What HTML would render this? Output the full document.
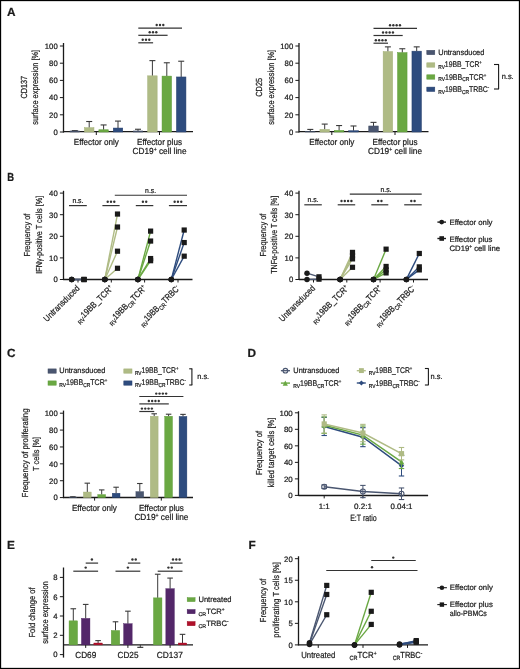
<!DOCTYPE html>
<html><head><meta charset="utf-8"><style>
html,body{margin:0;padding:0;background:#fff;overflow:hidden;}
svg{display:block;font-family:"Liberation Sans", sans-serif;will-change:transform;text-rendering:geometricPrecision;}
text{fill:#1a1a1a;stroke:#1a1a1a;stroke-width:0.22px;}
</style></head><body>
<svg width="520" height="669" viewBox="0 0 520 669">
<rect x="0" y="0" width="520" height="669" fill="#fff"/>
<text x="7" y="16.1" font-size="11.8" font-weight="bold">A</text>
<line x1="63.5" y1="43" x2="63.5" y2="132.6" stroke="#1a1a1a" stroke-width="1.3"/>
<line x1="59.9" y1="132" x2="63.5" y2="132" stroke="#1a1a1a" stroke-width="1.0"/>
<text x="57.7" y="134.8" font-size="7.8" text-anchor="end" textLength="4.3" lengthAdjust="spacingAndGlyphs">0</text>
<line x1="59.9" y1="114.8" x2="63.5" y2="114.8" stroke="#1a1a1a" stroke-width="1.0"/>
<text x="57.7" y="117.6" font-size="7.8" text-anchor="end" textLength="8.6" lengthAdjust="spacingAndGlyphs">20</text>
<line x1="59.9" y1="97.6" x2="63.5" y2="97.6" stroke="#1a1a1a" stroke-width="1.0"/>
<text x="57.7" y="100.4" font-size="7.8" text-anchor="end" textLength="8.6" lengthAdjust="spacingAndGlyphs">40</text>
<line x1="59.9" y1="80.4" x2="63.5" y2="80.4" stroke="#1a1a1a" stroke-width="1.0"/>
<text x="57.7" y="83.2" font-size="7.8" text-anchor="end" textLength="8.6" lengthAdjust="spacingAndGlyphs">60</text>
<line x1="59.9" y1="63.2" x2="63.5" y2="63.2" stroke="#1a1a1a" stroke-width="1.0"/>
<text x="57.7" y="66" font-size="7.8" text-anchor="end" textLength="8.6" lengthAdjust="spacingAndGlyphs">80</text>
<line x1="59.9" y1="46" x2="63.5" y2="46" stroke="#1a1a1a" stroke-width="1.0"/>
<text x="57.7" y="48.8" font-size="7.8" text-anchor="end" textLength="12.9" lengthAdjust="spacingAndGlyphs">100</text>
<line x1="63.5" y1="131.7" x2="193" y2="131.7" stroke="#1a1a1a" stroke-width="1.3"/>
<line x1="96.3" y1="132" x2="96.3" y2="135" stroke="#1a1a1a" stroke-width="1.0"/>
<line x1="159.5" y1="132" x2="159.5" y2="135" stroke="#1a1a1a" stroke-width="1.0"/>
<text x="27.1" y="87.3" font-size="8.8" text-anchor="middle" textLength="22.5" lengthAdjust="spacingAndGlyphs" transform="rotate(-90 27.1 87.3)">CD137</text>
<text x="38.2" y="87.3" font-size="8.8" text-anchor="middle" textLength="75" lengthAdjust="spacingAndGlyphs" transform="rotate(-90 38.2 87.3)">surface expression [%]</text>
<text x="96.3" y="144.8" font-size="8.8" text-anchor="middle" textLength="45" lengthAdjust="spacingAndGlyphs">Effector only</text>
<text x="159.5" y="144.8" font-size="8.8" text-anchor="middle" textLength="45" lengthAdjust="spacingAndGlyphs">Effector plus</text>
<text x="159.5" y="154.4" font-size="8.8" text-anchor="middle" textLength="54" lengthAdjust="spacingAndGlyphs"><tspan dy="0" font-size="8.8">CD19</tspan><tspan dy="-3.17" font-size="5.46">+</tspan><tspan dy="3.17" font-size="8.8"> cell line</tspan></text>
<line x1="299" y1="43" x2="299" y2="132.6" stroke="#1a1a1a" stroke-width="1.3"/>
<line x1="295.4" y1="132" x2="299" y2="132" stroke="#1a1a1a" stroke-width="1.0"/>
<text x="293.2" y="134.8" font-size="7.8" text-anchor="end" textLength="4.3" lengthAdjust="spacingAndGlyphs">0</text>
<line x1="295.4" y1="114.8" x2="299" y2="114.8" stroke="#1a1a1a" stroke-width="1.0"/>
<text x="293.2" y="117.6" font-size="7.8" text-anchor="end" textLength="8.6" lengthAdjust="spacingAndGlyphs">20</text>
<line x1="295.4" y1="97.6" x2="299" y2="97.6" stroke="#1a1a1a" stroke-width="1.0"/>
<text x="293.2" y="100.4" font-size="7.8" text-anchor="end" textLength="8.6" lengthAdjust="spacingAndGlyphs">40</text>
<line x1="295.4" y1="80.4" x2="299" y2="80.4" stroke="#1a1a1a" stroke-width="1.0"/>
<text x="293.2" y="83.2" font-size="7.8" text-anchor="end" textLength="8.6" lengthAdjust="spacingAndGlyphs">60</text>
<line x1="295.4" y1="63.2" x2="299" y2="63.2" stroke="#1a1a1a" stroke-width="1.0"/>
<text x="293.2" y="66" font-size="7.8" text-anchor="end" textLength="8.6" lengthAdjust="spacingAndGlyphs">80</text>
<line x1="295.4" y1="46" x2="299" y2="46" stroke="#1a1a1a" stroke-width="1.0"/>
<text x="293.2" y="48.8" font-size="7.8" text-anchor="end" textLength="12.9" lengthAdjust="spacingAndGlyphs">100</text>
<line x1="299" y1="131.7" x2="428.5" y2="131.7" stroke="#1a1a1a" stroke-width="1.3"/>
<line x1="331.8" y1="132" x2="331.8" y2="135" stroke="#1a1a1a" stroke-width="1.0"/>
<line x1="395" y1="132" x2="395" y2="135" stroke="#1a1a1a" stroke-width="1.0"/>
<text x="262.1" y="87.3" font-size="8.8" text-anchor="middle" textLength="19" lengthAdjust="spacingAndGlyphs" transform="rotate(-90 262.1 87.3)">CD25</text>
<text x="273.7" y="87.3" font-size="8.8" text-anchor="middle" textLength="75" lengthAdjust="spacingAndGlyphs" transform="rotate(-90 273.7 87.3)">surface expression [%]</text>
<text x="331.8" y="144.8" font-size="8.8" text-anchor="middle" textLength="45" lengthAdjust="spacingAndGlyphs">Effector only</text>
<text x="395" y="144.8" font-size="8.8" text-anchor="middle" textLength="45" lengthAdjust="spacingAndGlyphs">Effector plus</text>
<text x="395" y="154.4" font-size="8.8" text-anchor="middle" textLength="54" lengthAdjust="spacingAndGlyphs"><tspan dy="0" font-size="8.8">CD19</tspan><tspan dy="-3.17" font-size="5.46">+</tspan><tspan dy="3.17" font-size="8.8"> cell line</tspan></text>
<line x1="74.8" y1="130.97" x2="74.8" y2="130.62" stroke="#3a3a3a" stroke-width="1.0"/>
<line x1="71.8" y1="130.62" x2="77.8" y2="130.62" stroke="#3a3a3a" stroke-width="1.1"/>
<rect x="70.05" y="130.97" width="9.5" height="1.03" fill="#4a5670" stroke="#3e4960" stroke-width="0.5"/>
<line x1="89.2" y1="127.7" x2="89.2" y2="121.51" stroke="#3a3a3a" stroke-width="1.0"/>
<line x1="86.2" y1="121.51" x2="92.2" y2="121.51" stroke="#3a3a3a" stroke-width="1.1"/>
<rect x="84.45" y="127.7" width="9.5" height="4.3" fill="#afbb85" stroke="#a2b076" stroke-width="0.5"/>
<line x1="103.6" y1="129.76" x2="103.6" y2="124.95" stroke="#3a3a3a" stroke-width="1.0"/>
<line x1="100.6" y1="124.95" x2="106.6" y2="124.95" stroke="#3a3a3a" stroke-width="1.1"/>
<rect x="98.85" y="129.76" width="9.5" height="2.24" fill="#6aa843" stroke="#5c9a37" stroke-width="0.5"/>
<line x1="118" y1="128.04" x2="118" y2="121.08" stroke="#3a3a3a" stroke-width="1.0"/>
<line x1="115" y1="121.08" x2="121" y2="121.08" stroke="#3a3a3a" stroke-width="1.1"/>
<rect x="113.25" y="128.04" width="9.5" height="3.96" fill="#2e4c7e" stroke="#263f6c" stroke-width="0.5"/>
<line x1="138" y1="130.97" x2="138" y2="129.25" stroke="#3a3a3a" stroke-width="1.0"/>
<line x1="135" y1="129.25" x2="141" y2="129.25" stroke="#3a3a3a" stroke-width="1.1"/>
<rect x="133.25" y="130.97" width="9.5" height="1.03" fill="#4a5670" stroke="#3e4960" stroke-width="0.5"/>
<line x1="152.4" y1="75.84" x2="152.4" y2="60.62" stroke="#3a3a3a" stroke-width="1.0"/>
<line x1="149.4" y1="60.62" x2="155.4" y2="60.62" stroke="#3a3a3a" stroke-width="1.1"/>
<rect x="147.65" y="75.84" width="9.5" height="56.16" fill="#afbb85" stroke="#a2b076" stroke-width="0.5"/>
<line x1="166.8" y1="76.1" x2="166.8" y2="62.77" stroke="#3a3a3a" stroke-width="1.0"/>
<line x1="163.8" y1="62.77" x2="169.8" y2="62.77" stroke="#3a3a3a" stroke-width="1.1"/>
<rect x="162.05" y="76.1" width="9.5" height="55.9" fill="#6aa843" stroke="#5c9a37" stroke-width="0.5"/>
<line x1="181.2" y1="76.96" x2="181.2" y2="61.22" stroke="#3a3a3a" stroke-width="1.0"/>
<line x1="178.2" y1="61.22" x2="184.2" y2="61.22" stroke="#3a3a3a" stroke-width="1.1"/>
<rect x="176.45" y="76.96" width="9.5" height="55.04" fill="#2e4c7e" stroke="#263f6c" stroke-width="0.5"/>
<line x1="138.3" y1="28.2" x2="182" y2="28.2" stroke="#333333" stroke-width="1.2"/>
<circle cx="156.7" cy="25" r="1.2" fill="#333333"/>
<circle cx="160" cy="25" r="1.2" fill="#333333"/>
<circle cx="163.3" cy="25" r="1.2" fill="#333333"/>
<line x1="138.3" y1="35.3" x2="167.6" y2="35.3" stroke="#333333" stroke-width="1.2"/>
<circle cx="149.7" cy="32.2" r="1.2" fill="#333333"/>
<circle cx="153" cy="32.2" r="1.2" fill="#333333"/>
<circle cx="156.3" cy="32.2" r="1.2" fill="#333333"/>
<line x1="138.3" y1="42.8" x2="153.1" y2="42.8" stroke="#333333" stroke-width="1.2"/>
<circle cx="142.7" cy="39.7" r="1.2" fill="#333333"/>
<circle cx="146" cy="39.7" r="1.2" fill="#333333"/>
<circle cx="149.3" cy="39.7" r="1.2" fill="#333333"/>
<line x1="310.3" y1="131.48" x2="310.3" y2="129.42" stroke="#3a3a3a" stroke-width="1.0"/>
<line x1="307.3" y1="129.42" x2="313.3" y2="129.42" stroke="#3a3a3a" stroke-width="1.1"/>
<rect x="305.55" y="131.48" width="9.5" height="0.52" fill="#4a5670" stroke="#3e4960" stroke-width="0.5"/>
<line x1="324.7" y1="129.42" x2="324.7" y2="124.09" stroke="#3a3a3a" stroke-width="1.0"/>
<line x1="321.7" y1="124.09" x2="327.7" y2="124.09" stroke="#3a3a3a" stroke-width="1.1"/>
<rect x="319.95" y="129.42" width="9.5" height="2.58" fill="#afbb85" stroke="#a2b076" stroke-width="0.5"/>
<line x1="339.1" y1="130.45" x2="339.1" y2="125.55" stroke="#3a3a3a" stroke-width="1.0"/>
<line x1="336.1" y1="125.55" x2="342.1" y2="125.55" stroke="#3a3a3a" stroke-width="1.1"/>
<rect x="334.35" y="130.45" width="9.5" height="1.55" fill="#6aa843" stroke="#5c9a37" stroke-width="0.5"/>
<line x1="353.5" y1="130.71" x2="353.5" y2="125.98" stroke="#3a3a3a" stroke-width="1.0"/>
<line x1="350.5" y1="125.98" x2="356.5" y2="125.98" stroke="#3a3a3a" stroke-width="1.1"/>
<rect x="348.75" y="130.71" width="9.5" height="1.29" fill="#2e4c7e" stroke="#263f6c" stroke-width="0.5"/>
<line x1="373.5" y1="125.98" x2="373.5" y2="122.37" stroke="#3a3a3a" stroke-width="1.0"/>
<line x1="370.5" y1="122.37" x2="376.5" y2="122.37" stroke="#3a3a3a" stroke-width="1.1"/>
<rect x="368.75" y="125.98" width="9.5" height="6.02" fill="#4a5670" stroke="#3e4960" stroke-width="0.5"/>
<line x1="387.9" y1="51.59" x2="387.9" y2="46.86" stroke="#3a3a3a" stroke-width="1.0"/>
<line x1="384.9" y1="46.86" x2="390.9" y2="46.86" stroke="#3a3a3a" stroke-width="1.1"/>
<rect x="383.15" y="51.59" width="9.5" height="80.41" fill="#afbb85" stroke="#a2b076" stroke-width="0.5"/>
<line x1="402.3" y1="52.62" x2="402.3" y2="48.75" stroke="#3a3a3a" stroke-width="1.0"/>
<line x1="399.3" y1="48.75" x2="405.3" y2="48.75" stroke="#3a3a3a" stroke-width="1.1"/>
<rect x="397.55" y="52.62" width="9.5" height="79.38" fill="#6aa843" stroke="#5c9a37" stroke-width="0.5"/>
<line x1="416.7" y1="51.16" x2="416.7" y2="46.86" stroke="#3a3a3a" stroke-width="1.0"/>
<line x1="413.7" y1="46.86" x2="419.7" y2="46.86" stroke="#3a3a3a" stroke-width="1.1"/>
<rect x="411.95" y="51.16" width="9.5" height="80.84" fill="#2e4c7e" stroke="#263f6c" stroke-width="0.5"/>
<line x1="373.5" y1="28.3" x2="417" y2="28.3" stroke="#333333" stroke-width="1.2"/>
<circle cx="390.05" cy="25.3" r="1.2" fill="#333333"/>
<circle cx="393.35" cy="25.3" r="1.2" fill="#333333"/>
<circle cx="396.65" cy="25.3" r="1.2" fill="#333333"/>
<circle cx="399.95" cy="25.3" r="1.2" fill="#333333"/>
<line x1="373.5" y1="35.5" x2="402.7" y2="35.5" stroke="#333333" stroke-width="1.2"/>
<circle cx="383.05" cy="32.5" r="1.2" fill="#333333"/>
<circle cx="386.35" cy="32.5" r="1.2" fill="#333333"/>
<circle cx="389.65" cy="32.5" r="1.2" fill="#333333"/>
<circle cx="392.95" cy="32.5" r="1.2" fill="#333333"/>
<line x1="373.5" y1="43.2" x2="388" y2="43.2" stroke="#333333" stroke-width="1.2"/>
<circle cx="375.85" cy="40.2" r="1.2" fill="#333333"/>
<circle cx="379.15" cy="40.2" r="1.2" fill="#333333"/>
<circle cx="382.45" cy="40.2" r="1.2" fill="#333333"/>
<circle cx="385.75" cy="40.2" r="1.2" fill="#333333"/>
<rect x="426.8" y="50.3" width="8" height="4.4" fill="#4a5670" stroke="#3e4960" stroke-width="0.5"/>
<rect x="426.8" y="62.8" width="8" height="4.4" fill="#afbb85" stroke="#a2b076" stroke-width="0.5"/>
<rect x="426.8" y="74.8" width="8" height="4.4" fill="#6aa843" stroke="#5c9a37" stroke-width="0.5"/>
<rect x="426.8" y="87.1" width="8" height="4.4" fill="#2e4c7e" stroke="#263f6c" stroke-width="0.5"/>
<text x="438.3" y="55" font-size="7.8" textLength="46" lengthAdjust="spacingAndGlyphs">Untransduced</text>
<text x="438.3" y="67.3" font-size="8.2" textLength="43.5" lengthAdjust="spacingAndGlyphs"><tspan dy="1.97" font-size="5.74">RV</tspan><tspan dy="-1.97" font-size="8.2">19BB_TCR</tspan><tspan dy="-2.95" font-size="5.08">+</tspan></text>
<text x="438.3" y="79.5" font-size="8.2" textLength="48" lengthAdjust="spacingAndGlyphs"><tspan dy="1.97" font-size="5.74">RV</tspan><tspan dy="-1.97" font-size="8.2">19BB</tspan><tspan dy="1.97" font-size="5.74">CR</tspan><tspan dy="-1.97" font-size="8.2">TCR</tspan><tspan dy="-2.95" font-size="5.08">+</tspan></text>
<text x="438.3" y="91.8" font-size="8.2" textLength="51" lengthAdjust="spacingAndGlyphs"><tspan dy="1.97" font-size="5.74">RV</tspan><tspan dy="-1.97" font-size="8.2">19BB</tspan><tspan dy="1.97" font-size="5.74">CR</tspan><tspan dy="-1.97" font-size="8.2">TRBC</tspan><tspan dy="-2.95" font-size="5.08">-</tspan></text>
<line x1="494" y1="64.5" x2="499" y2="64.5" stroke="#1a1a1a" stroke-width="1.1"/>
<line x1="498.6" y1="64.5" x2="498.6" y2="89" stroke="#1a1a1a" stroke-width="1.1"/>
<line x1="494" y1="89" x2="499" y2="89" stroke="#1a1a1a" stroke-width="1.1"/>
<text x="501.7" y="79.2" font-size="7.8" textLength="12" lengthAdjust="spacingAndGlyphs">n.s.</text>
<text x="7.3" y="181" font-size="11.8" font-weight="bold" textLength="6.8" lengthAdjust="spacingAndGlyphs">B</text>
<line x1="63.5" y1="190.8" x2="63.5" y2="280.1" stroke="#1a1a1a" stroke-width="1.3"/>
<line x1="59.9" y1="279.5" x2="63.5" y2="279.5" stroke="#1a1a1a" stroke-width="1.0"/>
<text x="57.7" y="282.3" font-size="7.8" text-anchor="end" textLength="4.3" lengthAdjust="spacingAndGlyphs">0</text>
<line x1="59.9" y1="257.9" x2="63.5" y2="257.9" stroke="#1a1a1a" stroke-width="1.0"/>
<text x="57.7" y="260.7" font-size="7.8" text-anchor="end" textLength="8.6" lengthAdjust="spacingAndGlyphs">10</text>
<line x1="59.9" y1="236.3" x2="63.5" y2="236.3" stroke="#1a1a1a" stroke-width="1.0"/>
<text x="57.7" y="239.1" font-size="7.8" text-anchor="end" textLength="8.6" lengthAdjust="spacingAndGlyphs">20</text>
<line x1="59.9" y1="214.7" x2="63.5" y2="214.7" stroke="#1a1a1a" stroke-width="1.0"/>
<text x="57.7" y="217.5" font-size="7.8" text-anchor="end" textLength="8.6" lengthAdjust="spacingAndGlyphs">30</text>
<line x1="59.9" y1="193.1" x2="63.5" y2="193.1" stroke="#1a1a1a" stroke-width="1.0"/>
<text x="57.7" y="195.9" font-size="7.8" text-anchor="end" textLength="8.6" lengthAdjust="spacingAndGlyphs">40</text>
<line x1="63.5" y1="279.5" x2="192.5" y2="279.5" stroke="#1a1a1a" stroke-width="1.3"/>
<line x1="78" y1="279.5" x2="78" y2="282.5" stroke="#1a1a1a" stroke-width="1.0"/>
<line x1="111.3" y1="279.5" x2="111.3" y2="282.5" stroke="#1a1a1a" stroke-width="1.0"/>
<line x1="144.6" y1="279.5" x2="144.6" y2="282.5" stroke="#1a1a1a" stroke-width="1.0"/>
<line x1="178" y1="279.5" x2="178" y2="282.5" stroke="#1a1a1a" stroke-width="1.0"/>
<text x="30.5" y="235.1" font-size="8.7" text-anchor="middle" textLength="43" lengthAdjust="spacingAndGlyphs" transform="rotate(-90 30.5 235.1)">Frequency of</text>
<text x="41.7" y="234.7" font-size="8.7" text-anchor="middle" textLength="78" lengthAdjust="spacingAndGlyphs" transform="rotate(-90 41.7 234.7)">IFNγ-positive T cells [%]</text>
<text x="80.3" y="288.9" font-size="8.8" text-anchor="end" textLength="47" lengthAdjust="spacingAndGlyphs" transform="rotate(-45 80.3 288.9)">Untransduced</text>
<text x="113.6" y="288.9" font-size="8.8" text-anchor="end" textLength="49" lengthAdjust="spacingAndGlyphs" transform="rotate(-45 113.6 288.9)"><tspan dy="2.11" font-size="6.16">RV</tspan><tspan dy="-2.11" font-size="8.8">19BB_TCR</tspan><tspan dy="-3.17" font-size="5.46">+</tspan></text>
<text x="146.9" y="288.9" font-size="8.8" text-anchor="end" textLength="51" lengthAdjust="spacingAndGlyphs" transform="rotate(-45 146.9 288.9)"><tspan dy="2.11" font-size="6.16">RV</tspan><tspan dy="-2.11" font-size="8.8">19BB</tspan><tspan dy="2.11" font-size="6.16">CR</tspan><tspan dy="-2.11" font-size="8.8">TCR</tspan><tspan dy="-3.17" font-size="5.46">+</tspan></text>
<text x="180.3" y="288.9" font-size="8.8" text-anchor="end" textLength="53.5" lengthAdjust="spacingAndGlyphs" transform="rotate(-45 180.3 288.9)"><tspan dy="2.11" font-size="6.16">RV</tspan><tspan dy="-2.11" font-size="8.8">19BB</tspan><tspan dy="2.11" font-size="6.16">CR</tspan><tspan dy="-2.11" font-size="8.8">TRBC</tspan><tspan dy="-3.17" font-size="5.46">-</tspan></text>
<line x1="299" y1="190.8" x2="299" y2="280.1" stroke="#1a1a1a" stroke-width="1.3"/>
<line x1="295.4" y1="279.5" x2="299" y2="279.5" stroke="#1a1a1a" stroke-width="1.0"/>
<text x="293.2" y="282.3" font-size="7.8" text-anchor="end" textLength="4.3" lengthAdjust="spacingAndGlyphs">0</text>
<line x1="295.4" y1="257.9" x2="299" y2="257.9" stroke="#1a1a1a" stroke-width="1.0"/>
<text x="293.2" y="260.7" font-size="7.8" text-anchor="end" textLength="8.6" lengthAdjust="spacingAndGlyphs">10</text>
<line x1="295.4" y1="236.3" x2="299" y2="236.3" stroke="#1a1a1a" stroke-width="1.0"/>
<text x="293.2" y="239.1" font-size="7.8" text-anchor="end" textLength="8.6" lengthAdjust="spacingAndGlyphs">20</text>
<line x1="295.4" y1="214.7" x2="299" y2="214.7" stroke="#1a1a1a" stroke-width="1.0"/>
<text x="293.2" y="217.5" font-size="7.8" text-anchor="end" textLength="8.6" lengthAdjust="spacingAndGlyphs">30</text>
<line x1="295.4" y1="193.1" x2="299" y2="193.1" stroke="#1a1a1a" stroke-width="1.0"/>
<text x="293.2" y="195.9" font-size="7.8" text-anchor="end" textLength="8.6" lengthAdjust="spacingAndGlyphs">40</text>
<line x1="299" y1="279.5" x2="428" y2="279.5" stroke="#1a1a1a" stroke-width="1.3"/>
<line x1="313.5" y1="279.5" x2="313.5" y2="282.5" stroke="#1a1a1a" stroke-width="1.0"/>
<line x1="346.8" y1="279.5" x2="346.8" y2="282.5" stroke="#1a1a1a" stroke-width="1.0"/>
<line x1="380.1" y1="279.5" x2="380.1" y2="282.5" stroke="#1a1a1a" stroke-width="1.0"/>
<line x1="413.5" y1="279.5" x2="413.5" y2="282.5" stroke="#1a1a1a" stroke-width="1.0"/>
<text x="266" y="235.1" font-size="8.7" text-anchor="middle" textLength="43" lengthAdjust="spacingAndGlyphs" transform="rotate(-90 266 235.1)">Frequency of</text>
<text x="277.2" y="234.7" font-size="8.7" text-anchor="middle" textLength="78" lengthAdjust="spacingAndGlyphs" transform="rotate(-90 277.2 234.7)">TNFα-positive T cells [%]</text>
<text x="315.8" y="288.9" font-size="8.8" text-anchor="end" textLength="47" lengthAdjust="spacingAndGlyphs" transform="rotate(-45 315.8 288.9)">Untransduced</text>
<text x="349.1" y="288.9" font-size="8.8" text-anchor="end" textLength="49" lengthAdjust="spacingAndGlyphs" transform="rotate(-45 349.1 288.9)"><tspan dy="2.11" font-size="6.16">RV</tspan><tspan dy="-2.11" font-size="8.8">19BB_TCR</tspan><tspan dy="-3.17" font-size="5.46">+</tspan></text>
<text x="382.4" y="288.9" font-size="8.8" text-anchor="end" textLength="51" lengthAdjust="spacingAndGlyphs" transform="rotate(-45 382.4 288.9)"><tspan dy="2.11" font-size="6.16">RV</tspan><tspan dy="-2.11" font-size="8.8">19BB</tspan><tspan dy="2.11" font-size="6.16">CR</tspan><tspan dy="-2.11" font-size="8.8">TCR</tspan><tspan dy="-3.17" font-size="5.46">+</tspan></text>
<text x="415.8" y="288.9" font-size="8.8" text-anchor="end" textLength="53.5" lengthAdjust="spacingAndGlyphs" transform="rotate(-45 415.8 288.9)"><tspan dy="2.11" font-size="6.16">RV</tspan><tspan dy="-2.11" font-size="8.8">19BB</tspan><tspan dy="2.11" font-size="6.16">CR</tspan><tspan dy="-2.11" font-size="8.8">TRBC</tspan><tspan dy="-3.17" font-size="5.46">-</tspan></text>
<line x1="71.7" y1="279.5" x2="84" y2="279.5" stroke="#4a5670" stroke-width="1.4"/>
<line x1="71.7" y1="279.5" x2="84" y2="279.5" stroke="#4a5670" stroke-width="1.4"/>
<line x1="71.7" y1="279.5" x2="84" y2="279.5" stroke="#4a5670" stroke-width="1.4"/>
<circle cx="71.7" cy="279.5" r="2.75" fill="#1a1a1a"/>
<circle cx="71.7" cy="279.5" r="2.75" fill="#1a1a1a"/>
<circle cx="71.7" cy="279.5" r="2.75" fill="#1a1a1a"/>
<rect x="81.4" y="276.9" width="5.2" height="5.2" fill="#1a1a1a"/>
<rect x="81.4" y="276.9" width="5.2" height="5.2" fill="#1a1a1a"/>
<rect x="81.4" y="276.9" width="5.2" height="5.2" fill="#1a1a1a"/>
<line x1="104.8" y1="279.5" x2="117.5" y2="214.05" stroke="#afbb85" stroke-width="1.4"/>
<line x1="104.8" y1="279.5" x2="117.5" y2="227.01" stroke="#afbb85" stroke-width="1.4"/>
<line x1="104.8" y1="279.5" x2="117.5" y2="251.2" stroke="#afbb85" stroke-width="1.4"/>
<line x1="104.8" y1="279.5" x2="117.5" y2="268.27" stroke="#afbb85" stroke-width="1.4"/>
<circle cx="104.8" cy="279.5" r="2.75" fill="#1a1a1a"/>
<circle cx="104.8" cy="279.5" r="2.75" fill="#1a1a1a"/>
<circle cx="104.8" cy="279.5" r="2.75" fill="#1a1a1a"/>
<circle cx="104.8" cy="279.5" r="2.75" fill="#1a1a1a"/>
<rect x="114.9" y="211.45" width="5.2" height="5.2" fill="#1a1a1a"/>
<rect x="114.9" y="224.41" width="5.2" height="5.2" fill="#1a1a1a"/>
<rect x="114.9" y="248.6" width="5.2" height="5.2" fill="#1a1a1a"/>
<rect x="114.9" y="265.67" width="5.2" height="5.2" fill="#1a1a1a"/>
<line x1="137.9" y1="279.5" x2="150.6" y2="231.12" stroke="#6aa843" stroke-width="1.4"/>
<line x1="137.9" y1="279.5" x2="150.6" y2="241.05" stroke="#6aa843" stroke-width="1.4"/>
<line x1="137.9" y1="279.5" x2="150.6" y2="258.55" stroke="#6aa843" stroke-width="1.4"/>
<line x1="137.9" y1="279.5" x2="150.6" y2="260.71" stroke="#6aa843" stroke-width="1.4"/>
<circle cx="137.9" cy="279.5" r="2.75" fill="#1a1a1a"/>
<circle cx="137.9" cy="279.5" r="2.75" fill="#1a1a1a"/>
<circle cx="137.9" cy="279.5" r="2.75" fill="#1a1a1a"/>
<circle cx="137.9" cy="279.5" r="2.75" fill="#1a1a1a"/>
<rect x="148" y="228.52" width="5.2" height="5.2" fill="#1a1a1a"/>
<rect x="148" y="238.45" width="5.2" height="5.2" fill="#1a1a1a"/>
<rect x="148" y="255.95" width="5.2" height="5.2" fill="#1a1a1a"/>
<rect x="148" y="258.11" width="5.2" height="5.2" fill="#1a1a1a"/>
<line x1="171.3" y1="279.5" x2="184.2" y2="230.04" stroke="#2e4c7e" stroke-width="1.4"/>
<line x1="171.3" y1="279.5" x2="184.2" y2="242.56" stroke="#2e4c7e" stroke-width="1.4"/>
<line x1="171.3" y1="279.5" x2="184.2" y2="256.17" stroke="#2e4c7e" stroke-width="1.4"/>
<circle cx="171.3" cy="279.5" r="2.75" fill="#1a1a1a"/>
<circle cx="171.3" cy="279.5" r="2.75" fill="#1a1a1a"/>
<circle cx="171.3" cy="279.5" r="2.75" fill="#1a1a1a"/>
<rect x="181.6" y="227.44" width="5.2" height="5.2" fill="#1a1a1a"/>
<rect x="181.6" y="239.96" width="5.2" height="5.2" fill="#1a1a1a"/>
<rect x="181.6" y="253.57" width="5.2" height="5.2" fill="#1a1a1a"/>
<line x1="69" y1="205.6" x2="86.8" y2="205.6" stroke="#333333" stroke-width="1.2"/>
<text x="77.9" y="203.2" font-size="7.3" text-anchor="middle" textLength="11" lengthAdjust="spacingAndGlyphs">n.s.</text>
<line x1="102.4" y1="205.6" x2="119.6" y2="205.6" stroke="#333333" stroke-width="1.2"/>
<circle cx="107.7" cy="201.8" r="1.2" fill="#333333"/>
<circle cx="111" cy="201.8" r="1.2" fill="#333333"/>
<circle cx="114.3" cy="201.8" r="1.2" fill="#333333"/>
<line x1="135.8" y1="205.6" x2="153.3" y2="205.6" stroke="#333333" stroke-width="1.2"/>
<circle cx="142.9" cy="201.8" r="1.2" fill="#333333"/>
<circle cx="146.2" cy="201.8" r="1.2" fill="#333333"/>
<line x1="168.9" y1="205.6" x2="187" y2="205.6" stroke="#333333" stroke-width="1.2"/>
<circle cx="174.65" cy="201.8" r="1.2" fill="#333333"/>
<circle cx="177.95" cy="201.8" r="1.2" fill="#333333"/>
<circle cx="181.25" cy="201.8" r="1.2" fill="#333333"/>
<line x1="114.8" y1="195.3" x2="187" y2="195.3" stroke="#333333" stroke-width="1.05"/>
<text x="150.6" y="192.9" font-size="7.3" text-anchor="middle" textLength="11" lengthAdjust="spacingAndGlyphs">n.s.</text>
<line x1="307" y1="273.14" x2="319" y2="276.81" stroke="#4a5670" stroke-width="1.4"/>
<line x1="307" y1="279.4" x2="319" y2="279.18" stroke="#4a5670" stroke-width="1.4"/>
<circle cx="307" cy="273.14" r="2.75" fill="#1a1a1a"/>
<circle cx="307" cy="279.4" r="2.75" fill="#1a1a1a"/>
<rect x="316.4" y="274.21" width="5.2" height="5.2" fill="#1a1a1a"/>
<rect x="316.4" y="276.58" width="5.2" height="5.2" fill="#1a1a1a"/>
<line x1="340.1" y1="279.4" x2="352.5" y2="252.4" stroke="#afbb85" stroke-width="1.4"/>
<line x1="340.1" y1="279.4" x2="352.5" y2="255.64" stroke="#afbb85" stroke-width="1.4"/>
<line x1="340.1" y1="279.4" x2="352.5" y2="258.88" stroke="#afbb85" stroke-width="1.4"/>
<line x1="340.1" y1="279.4" x2="352.5" y2="267.3" stroke="#afbb85" stroke-width="1.4"/>
<circle cx="340.1" cy="279.4" r="2.75" fill="#1a1a1a"/>
<circle cx="340.1" cy="279.4" r="2.75" fill="#1a1a1a"/>
<circle cx="340.1" cy="279.4" r="2.75" fill="#1a1a1a"/>
<circle cx="340.1" cy="279.4" r="2.75" fill="#1a1a1a"/>
<rect x="349.9" y="249.8" width="5.2" height="5.2" fill="#1a1a1a"/>
<rect x="349.9" y="253.04" width="5.2" height="5.2" fill="#1a1a1a"/>
<rect x="349.9" y="256.28" width="5.2" height="5.2" fill="#1a1a1a"/>
<rect x="349.9" y="264.7" width="5.2" height="5.2" fill="#1a1a1a"/>
<line x1="373.5" y1="279.4" x2="386.1" y2="249.16" stroke="#6aa843" stroke-width="1.4"/>
<line x1="373.5" y1="279.4" x2="386.1" y2="266.44" stroke="#6aa843" stroke-width="1.4"/>
<line x1="373.5" y1="279.4" x2="386.1" y2="269.9" stroke="#6aa843" stroke-width="1.4"/>
<line x1="373.5" y1="279.4" x2="386.1" y2="272.92" stroke="#6aa843" stroke-width="1.4"/>
<circle cx="373.5" cy="279.4" r="2.75" fill="#1a1a1a"/>
<circle cx="373.5" cy="279.4" r="2.75" fill="#1a1a1a"/>
<circle cx="373.5" cy="279.4" r="2.75" fill="#1a1a1a"/>
<circle cx="373.5" cy="279.4" r="2.75" fill="#1a1a1a"/>
<rect x="383.5" y="246.56" width="5.2" height="5.2" fill="#1a1a1a"/>
<rect x="383.5" y="263.84" width="5.2" height="5.2" fill="#1a1a1a"/>
<rect x="383.5" y="267.3" width="5.2" height="5.2" fill="#1a1a1a"/>
<rect x="383.5" y="270.32" width="5.2" height="5.2" fill="#1a1a1a"/>
<line x1="406.4" y1="279.4" x2="419.3" y2="253.48" stroke="#2e4c7e" stroke-width="1.4"/>
<line x1="406.4" y1="279.4" x2="419.3" y2="266.87" stroke="#2e4c7e" stroke-width="1.4"/>
<line x1="406.4" y1="279.4" x2="419.3" y2="269.9" stroke="#2e4c7e" stroke-width="1.4"/>
<circle cx="406.4" cy="279.4" r="2.75" fill="#1a1a1a"/>
<circle cx="406.4" cy="279.4" r="2.75" fill="#1a1a1a"/>
<circle cx="406.4" cy="279.4" r="2.75" fill="#1a1a1a"/>
<rect x="416.7" y="250.88" width="5.2" height="5.2" fill="#1a1a1a"/>
<rect x="416.7" y="264.27" width="5.2" height="5.2" fill="#1a1a1a"/>
<rect x="416.7" y="267.3" width="5.2" height="5.2" fill="#1a1a1a"/>
<line x1="304.3" y1="204.8" x2="321.8" y2="204.8" stroke="#333333" stroke-width="1.2"/>
<text x="313" y="202.4" font-size="7.3" text-anchor="middle" textLength="11" lengthAdjust="spacingAndGlyphs">n.s.</text>
<line x1="337.7" y1="204.8" x2="355.2" y2="204.8" stroke="#333333" stroke-width="1.2"/>
<circle cx="341.5" cy="201" r="1.2" fill="#333333"/>
<circle cx="344.8" cy="201" r="1.2" fill="#333333"/>
<circle cx="348.1" cy="201" r="1.2" fill="#333333"/>
<circle cx="351.4" cy="201" r="1.2" fill="#333333"/>
<line x1="371.3" y1="204.8" x2="388.3" y2="204.8" stroke="#333333" stroke-width="1.2"/>
<circle cx="378.15" cy="201" r="1.2" fill="#333333"/>
<circle cx="381.45" cy="201" r="1.2" fill="#333333"/>
<line x1="404.2" y1="204.8" x2="421.7" y2="204.8" stroke="#333333" stroke-width="1.2"/>
<circle cx="411.3" cy="201" r="1.2" fill="#333333"/>
<circle cx="414.6" cy="201" r="1.2" fill="#333333"/>
<line x1="349.8" y1="194.1" x2="421.7" y2="194.1" stroke="#333333" stroke-width="1.05"/>
<text x="386" y="191.7" font-size="7.3" text-anchor="middle" textLength="11" lengthAdjust="spacingAndGlyphs">n.s.</text>
<line x1="437.4" y1="222.1" x2="446" y2="222.1" stroke="#1a1a1a" stroke-width="1.4"/>
<circle cx="441.7" cy="222.1" r="2.4" fill="#1a1a1a"/>
<text x="449.5" y="224.6" font-size="7.8" textLength="43" lengthAdjust="spacingAndGlyphs">Effector only</text>
<line x1="437.4" y1="238.5" x2="446" y2="238.5" stroke="#1a1a1a" stroke-width="1.4"/>
<rect x="439.4" y="236.2" width="4.6" height="4.6" fill="#1a1a1a"/>
<text x="449.5" y="242.2" font-size="7.8" textLength="43" lengthAdjust="spacingAndGlyphs">Effector plus</text>
<text x="449.5" y="250.8" font-size="7.8" textLength="50.5" lengthAdjust="spacingAndGlyphs"><tspan dy="0" font-size="7.8">CD19</tspan><tspan dy="-2.81" font-size="4.84">+</tspan><tspan dy="2.81" font-size="7.8"> cell line</tspan></text>
<text x="7" y="357" font-size="11.8" font-weight="bold">C</text>
<rect x="48" y="368.9" width="8.2" height="4.3" fill="#4a5670" stroke="#3e4960" stroke-width="0.5"/>
<text x="59.3" y="373.3" font-size="7.8" textLength="46" lengthAdjust="spacingAndGlyphs">Untransduced</text>
<rect x="48" y="380.9" width="8.2" height="4.3" fill="#6aa843" stroke="#5c9a37" stroke-width="0.5"/>
<text x="59.3" y="385.4" font-size="8.2" textLength="48" lengthAdjust="spacingAndGlyphs"><tspan dy="1.97" font-size="5.74">RV</tspan><tspan dy="-1.97" font-size="8.2">19BB</tspan><tspan dy="1.97" font-size="5.74">CR</tspan><tspan dy="-1.97" font-size="8.2">TCR</tspan><tspan dy="-2.95" font-size="5.08">+</tspan></text>
<rect x="123.8" y="368.9" width="8.2" height="4.3" fill="#afbb85" stroke="#a2b076" stroke-width="0.5"/>
<text x="134.9" y="373.3" font-size="8.2" textLength="43.5" lengthAdjust="spacingAndGlyphs"><tspan dy="1.97" font-size="5.74">RV</tspan><tspan dy="-1.97" font-size="8.2">19BB_TCR</tspan><tspan dy="-2.95" font-size="5.08">+</tspan></text>
<rect x="123.8" y="380.9" width="8.2" height="4.3" fill="#2e4c7e" stroke="#263f6c" stroke-width="0.5"/>
<text x="134.9" y="385.4" font-size="8.2" textLength="51" lengthAdjust="spacingAndGlyphs"><tspan dy="1.97" font-size="5.74">RV</tspan><tspan dy="-1.97" font-size="8.2">19BB</tspan><tspan dy="1.97" font-size="5.74">CR</tspan><tspan dy="-1.97" font-size="8.2">TRBC</tspan><tspan dy="-2.95" font-size="5.08">-</tspan></text>
<line x1="189.2" y1="368.8" x2="192.3" y2="368.8" stroke="#1a1a1a" stroke-width="1.1"/>
<line x1="191.9" y1="368.8" x2="191.9" y2="385" stroke="#1a1a1a" stroke-width="1.1"/>
<line x1="189.2" y1="385" x2="192.3" y2="385" stroke="#1a1a1a" stroke-width="1.1"/>
<text x="197.2" y="379.4" font-size="7.8" textLength="12" lengthAdjust="spacingAndGlyphs">n.s.</text>
<line x1="63.5" y1="410.6" x2="63.5" y2="498.2" stroke="#1a1a1a" stroke-width="1.3"/>
<line x1="59.9" y1="497.6" x2="63.5" y2="497.6" stroke="#1a1a1a" stroke-width="1.0"/>
<text x="57.7" y="500.4" font-size="7.8" text-anchor="end" textLength="4.3" lengthAdjust="spacingAndGlyphs">0</text>
<line x1="59.9" y1="480.72" x2="63.5" y2="480.72" stroke="#1a1a1a" stroke-width="1.0"/>
<text x="57.7" y="483.52" font-size="7.8" text-anchor="end" textLength="8.6" lengthAdjust="spacingAndGlyphs">20</text>
<line x1="59.9" y1="463.84" x2="63.5" y2="463.84" stroke="#1a1a1a" stroke-width="1.0"/>
<text x="57.7" y="466.64" font-size="7.8" text-anchor="end" textLength="8.6" lengthAdjust="spacingAndGlyphs">40</text>
<line x1="59.9" y1="446.96" x2="63.5" y2="446.96" stroke="#1a1a1a" stroke-width="1.0"/>
<text x="57.7" y="449.76" font-size="7.8" text-anchor="end" textLength="8.6" lengthAdjust="spacingAndGlyphs">60</text>
<line x1="59.9" y1="430.08" x2="63.5" y2="430.08" stroke="#1a1a1a" stroke-width="1.0"/>
<text x="57.7" y="432.88" font-size="7.8" text-anchor="end" textLength="8.6" lengthAdjust="spacingAndGlyphs">80</text>
<line x1="59.9" y1="413.2" x2="63.5" y2="413.2" stroke="#1a1a1a" stroke-width="1.0"/>
<text x="57.7" y="416" font-size="7.8" text-anchor="end" textLength="12.9" lengthAdjust="spacingAndGlyphs">100</text>
<line x1="63.5" y1="497.5" x2="193" y2="497.5" stroke="#1a1a1a" stroke-width="1.3"/>
<line x1="94.6" y1="497.6" x2="94.6" y2="500.6" stroke="#1a1a1a" stroke-width="1.0"/>
<line x1="161.3" y1="497.6" x2="161.3" y2="500.6" stroke="#1a1a1a" stroke-width="1.0"/>
<text x="28" y="452.9" font-size="8.7" text-anchor="middle" textLength="89" lengthAdjust="spacingAndGlyphs" transform="rotate(-90 28 452.9)">Frequency of proliferating</text>
<text x="39.2" y="453.9" font-size="8.7" text-anchor="middle" textLength="34" lengthAdjust="spacingAndGlyphs" transform="rotate(-90 39.2 453.9)">T cells [%]</text>
<line x1="72.9" y1="497.09" x2="72.9" y2="496.76" stroke="#3a3a3a" stroke-width="1.0"/>
<line x1="70.15" y1="496.76" x2="75.65" y2="496.76" stroke="#3a3a3a" stroke-width="1.1"/>
<rect x="69" y="497.09" width="7.8" height="0.51" fill="#4a5670" stroke="#3e4960" stroke-width="0.4"/>
<line x1="87.3" y1="492.03" x2="87.3" y2="483.17" stroke="#3a3a3a" stroke-width="1.0"/>
<line x1="84.55" y1="483.17" x2="90.05" y2="483.17" stroke="#3a3a3a" stroke-width="1.1"/>
<rect x="83.4" y="492.03" width="7.8" height="5.57" fill="#afbb85" stroke="#a2b076" stroke-width="0.4"/>
<line x1="101.7" y1="494.56" x2="101.7" y2="489.92" stroke="#3a3a3a" stroke-width="1.0"/>
<line x1="98.95" y1="489.92" x2="104.45" y2="489.92" stroke="#3a3a3a" stroke-width="1.1"/>
<rect x="97.8" y="494.56" width="7.8" height="3.04" fill="#6aa843" stroke="#5c9a37" stroke-width="0.4"/>
<line x1="116.1" y1="493.21" x2="116.1" y2="487.22" stroke="#3a3a3a" stroke-width="1.0"/>
<line x1="113.35" y1="487.22" x2="118.85" y2="487.22" stroke="#3a3a3a" stroke-width="1.1"/>
<rect x="112.2" y="493.21" width="7.8" height="4.39" fill="#2e4c7e" stroke="#263f6c" stroke-width="0.4"/>
<line x1="139.8" y1="491.61" x2="139.8" y2="483.51" stroke="#3a3a3a" stroke-width="1.0"/>
<line x1="137.05" y1="483.51" x2="142.55" y2="483.51" stroke="#3a3a3a" stroke-width="1.1"/>
<rect x="135.9" y="491.61" width="7.8" height="5.99" fill="#4a5670" stroke="#3e4960" stroke-width="0.4"/>
<line x1="154.2" y1="416.24" x2="154.2" y2="413.79" stroke="#3a3a3a" stroke-width="1.0"/>
<line x1="151.45" y1="413.79" x2="156.95" y2="413.79" stroke="#3a3a3a" stroke-width="1.1"/>
<rect x="150.3" y="416.24" width="7.8" height="81.36" fill="#afbb85" stroke="#a2b076" stroke-width="0.4"/>
<line x1="168.6" y1="416.24" x2="168.6" y2="414.21" stroke="#3a3a3a" stroke-width="1.0"/>
<line x1="165.85" y1="414.21" x2="171.35" y2="414.21" stroke="#3a3a3a" stroke-width="1.1"/>
<rect x="164.7" y="416.24" width="7.8" height="81.36" fill="#6aa843" stroke="#5c9a37" stroke-width="0.4"/>
<line x1="183" y1="416.41" x2="183" y2="414.38" stroke="#3a3a3a" stroke-width="1.0"/>
<line x1="180.25" y1="414.38" x2="185.75" y2="414.38" stroke="#3a3a3a" stroke-width="1.1"/>
<rect x="179.1" y="416.41" width="7.8" height="81.19" fill="#2e4c7e" stroke="#263f6c" stroke-width="0.4"/>
<line x1="139.3" y1="396.5" x2="183.4" y2="396.5" stroke="#333333" stroke-width="1.2"/>
<circle cx="156.25" cy="393.6" r="1.2" fill="#333333"/>
<circle cx="159.55" cy="393.6" r="1.2" fill="#333333"/>
<circle cx="162.85" cy="393.6" r="1.2" fill="#333333"/>
<circle cx="166.15" cy="393.6" r="1.2" fill="#333333"/>
<line x1="139.3" y1="403.9" x2="168.8" y2="403.9" stroke="#333333" stroke-width="1.2"/>
<circle cx="148.85" cy="401" r="1.2" fill="#333333"/>
<circle cx="152.15" cy="401" r="1.2" fill="#333333"/>
<circle cx="155.45" cy="401" r="1.2" fill="#333333"/>
<circle cx="158.75" cy="401" r="1.2" fill="#333333"/>
<line x1="139.3" y1="411.5" x2="154.3" y2="411.5" stroke="#333333" stroke-width="1.2"/>
<circle cx="141.95" cy="408.6" r="1.2" fill="#333333"/>
<circle cx="145.25" cy="408.6" r="1.2" fill="#333333"/>
<circle cx="148.55" cy="408.6" r="1.2" fill="#333333"/>
<circle cx="151.85" cy="408.6" r="1.2" fill="#333333"/>
<text x="94.4" y="510.6" font-size="8.8" text-anchor="middle" textLength="45" lengthAdjust="spacingAndGlyphs">Effector only</text>
<text x="161.4" y="510.6" font-size="8.8" text-anchor="middle" textLength="45" lengthAdjust="spacingAndGlyphs">Effector plus</text>
<text x="161.4" y="520.4" font-size="8.8" text-anchor="middle" textLength="54" lengthAdjust="spacingAndGlyphs"><tspan dy="0" font-size="8.8">CD19</tspan><tspan dy="-3.17" font-size="5.46">+</tspan><tspan dy="3.17" font-size="8.8"> cell line</tspan></text>
<text x="247.5" y="357" font-size="11.8" font-weight="bold">D</text>
<line x1="280.9" y1="370.7" x2="290" y2="370.7" stroke="#4a5670" stroke-width="1.3"/>
<circle cx="285.4" cy="370.7" r="2.35" fill="none" stroke="#4a5670" stroke-width="1.1"/>
<text x="293.3" y="373.4" font-size="7.8" textLength="46" lengthAdjust="spacingAndGlyphs">Untransduced</text>
<line x1="280.9" y1="383.1" x2="290" y2="383.1" stroke="#6aa843" stroke-width="1.4"/>
<polygon points="285.3,380.57 287.9,385.77 282.7,385.77" fill="#6aa843"/>
<text x="293.3" y="385.6" font-size="8.2" textLength="48" lengthAdjust="spacingAndGlyphs"><tspan dy="1.97" font-size="5.74">RV</tspan><tspan dy="-1.97" font-size="8.2">19BB</tspan><tspan dy="1.97" font-size="5.74">CR</tspan><tspan dy="-1.97" font-size="8.2">TCR</tspan><tspan dy="-2.95" font-size="5.08">+</tspan></text>
<line x1="356.8" y1="370.7" x2="365.8" y2="370.7" stroke="#afbb85" stroke-width="1.3"/>
<rect x="358.95" y="368.15" width="4.9" height="4.9" fill="#afbb85"/>
<text x="368.8" y="373.4" font-size="8.2" textLength="43.5" lengthAdjust="spacingAndGlyphs"><tspan dy="1.97" font-size="5.74">RV</tspan><tspan dy="-1.97" font-size="8.2">19BB_TCR</tspan><tspan dy="-2.95" font-size="5.08">+</tspan></text>
<line x1="356.8" y1="383" x2="365.8" y2="383" stroke="#2e4c7e" stroke-width="1.4"/>
<polygon points="361.4,380.4 364,383 361.4,385.6 358.8,383" fill="#2e4c7e"/>
<text x="368.8" y="385.6" font-size="8.2" textLength="51" lengthAdjust="spacingAndGlyphs"><tspan dy="1.97" font-size="5.74">RV</tspan><tspan dy="-1.97" font-size="8.2">19BB</tspan><tspan dy="1.97" font-size="5.74">CR</tspan><tspan dy="-1.97" font-size="8.2">TRBC</tspan><tspan dy="-2.95" font-size="5.08">-</tspan></text>
<line x1="424.9" y1="368.5" x2="428.7" y2="368.5" stroke="#1a1a1a" stroke-width="1.1"/>
<line x1="428.4" y1="368.5" x2="428.4" y2="385" stroke="#1a1a1a" stroke-width="1.1"/>
<line x1="424.9" y1="385" x2="428.7" y2="385" stroke="#1a1a1a" stroke-width="1.1"/>
<text x="430.5" y="378.9" font-size="7.8" textLength="12" lengthAdjust="spacingAndGlyphs">n.s.</text>
<line x1="298.5" y1="411.2" x2="298.5" y2="496" stroke="#1a1a1a" stroke-width="1.3"/>
<line x1="294.9" y1="495.4" x2="298.5" y2="495.4" stroke="#1a1a1a" stroke-width="1.0"/>
<text x="292.7" y="498.2" font-size="7.6" text-anchor="end" textLength="4.4" lengthAdjust="spacingAndGlyphs">0</text>
<line x1="294.9" y1="478.88" x2="298.5" y2="478.88" stroke="#1a1a1a" stroke-width="1.0"/>
<text x="292.7" y="481.68" font-size="7.6" text-anchor="end" textLength="8.8" lengthAdjust="spacingAndGlyphs">20</text>
<line x1="294.9" y1="462.36" x2="298.5" y2="462.36" stroke="#1a1a1a" stroke-width="1.0"/>
<text x="292.7" y="465.16" font-size="7.6" text-anchor="end" textLength="8.8" lengthAdjust="spacingAndGlyphs">40</text>
<line x1="294.9" y1="445.84" x2="298.5" y2="445.84" stroke="#1a1a1a" stroke-width="1.0"/>
<text x="292.7" y="448.64" font-size="7.6" text-anchor="end" textLength="8.8" lengthAdjust="spacingAndGlyphs">60</text>
<line x1="294.9" y1="429.32" x2="298.5" y2="429.32" stroke="#1a1a1a" stroke-width="1.0"/>
<text x="292.7" y="432.12" font-size="7.6" text-anchor="end" textLength="8.8" lengthAdjust="spacingAndGlyphs">80</text>
<line x1="294.9" y1="412.8" x2="298.5" y2="412.8" stroke="#1a1a1a" stroke-width="1.0"/>
<text x="292.7" y="415.6" font-size="7.6" text-anchor="end" textLength="13.2" lengthAdjust="spacingAndGlyphs">100</text>
<line x1="298.5" y1="495.5" x2="428.1" y2="495.5" stroke="#1a1a1a" stroke-width="1.3"/>
<line x1="324.2" y1="495.4" x2="324.2" y2="498.4" stroke="#1a1a1a" stroke-width="1.0"/>
<line x1="362.9" y1="495.4" x2="362.9" y2="498.4" stroke="#1a1a1a" stroke-width="1.0"/>
<line x1="401.5" y1="495.4" x2="401.5" y2="498.4" stroke="#1a1a1a" stroke-width="1.0"/>
<text x="324.2" y="508.6" font-size="7.8" text-anchor="middle" textLength="11" lengthAdjust="spacingAndGlyphs">1:1</text>
<text x="362.9" y="508.6" font-size="7.8" text-anchor="middle" textLength="18" lengthAdjust="spacingAndGlyphs">0.2:1</text>
<text x="401.5" y="508.6" font-size="7.8" text-anchor="middle" textLength="22" lengthAdjust="spacingAndGlyphs">0.04:1</text>
<text x="363.4" y="521" font-size="9.0" text-anchor="middle" textLength="26.5" lengthAdjust="spacingAndGlyphs">E:T ratio</text>
<text x="262" y="453" font-size="8.7" text-anchor="middle" textLength="44" lengthAdjust="spacingAndGlyphs" transform="rotate(-90 262 453)">Frequency of</text>
<text x="274.2" y="452.5" font-size="8.7" text-anchor="middle" textLength="70" lengthAdjust="spacingAndGlyphs" transform="rotate(-90 274.2 452.5)">killed target cells [%]</text>
<polyline points="324.2,486.73 362.9,491.52 401.5,493.75" fill="none" stroke="#4a5670" stroke-width="1.5"/>
<line x1="324.2" y1="484.91" x2="324.2" y2="488.54" stroke="#4a5670" stroke-width="1.0"/>
<line x1="321.5" y1="484.91" x2="326.9" y2="484.91" stroke="#4a5670" stroke-width="1.1"/>
<line x1="321.5" y1="488.54" x2="326.9" y2="488.54" stroke="#4a5670" stroke-width="1.1"/>
<circle cx="324.2" cy="486.73" r="2.5" fill="none" stroke="#4a5670" stroke-width="1.1"/>
<line x1="362.9" y1="485.41" x2="362.9" y2="497.63" stroke="#4a5670" stroke-width="1.0"/>
<line x1="360.2" y1="485.41" x2="365.6" y2="485.41" stroke="#4a5670" stroke-width="1.1"/>
<line x1="360.2" y1="497.63" x2="365.6" y2="497.63" stroke="#4a5670" stroke-width="1.1"/>
<circle cx="362.9" cy="491.52" r="2.5" fill="none" stroke="#4a5670" stroke-width="1.1"/>
<line x1="401.5" y1="487.97" x2="401.5" y2="499.53" stroke="#4a5670" stroke-width="1.0"/>
<line x1="398.8" y1="487.97" x2="404.2" y2="487.97" stroke="#4a5670" stroke-width="1.1"/>
<line x1="398.8" y1="499.53" x2="404.2" y2="499.53" stroke="#4a5670" stroke-width="1.1"/>
<circle cx="401.5" cy="493.75" r="2.5" fill="none" stroke="#4a5670" stroke-width="1.1"/>
<polyline points="324.2,426.43 362.9,437.17 401.5,465.66" fill="none" stroke="#2e4c7e" stroke-width="1.5"/>
<line x1="324.2" y1="417.34" x2="324.2" y2="435.51" stroke="#2e4c7e" stroke-width="1.0"/>
<line x1="321.5" y1="417.34" x2="326.9" y2="417.34" stroke="#2e4c7e" stroke-width="1.1"/>
<line x1="321.5" y1="435.51" x2="326.9" y2="435.51" stroke="#2e4c7e" stroke-width="1.1"/>
<polygon points="324.2,423.73 326.9,426.43 324.2,429.13 321.5,426.43" fill="#2e4c7e"/>
<line x1="362.9" y1="427.67" x2="362.9" y2="446.67" stroke="#2e4c7e" stroke-width="1.0"/>
<line x1="360.2" y1="427.67" x2="365.6" y2="427.67" stroke="#2e4c7e" stroke-width="1.1"/>
<line x1="360.2" y1="446.67" x2="365.6" y2="446.67" stroke="#2e4c7e" stroke-width="1.1"/>
<polygon points="362.9,434.47 365.6,437.17 362.9,439.87 360.2,437.17" fill="#2e4c7e"/>
<line x1="401.5" y1="455.34" x2="401.5" y2="475.99" stroke="#2e4c7e" stroke-width="1.0"/>
<line x1="398.8" y1="455.34" x2="404.2" y2="455.34" stroke="#2e4c7e" stroke-width="1.1"/>
<line x1="398.8" y1="475.99" x2="404.2" y2="475.99" stroke="#2e4c7e" stroke-width="1.1"/>
<polygon points="401.5,462.96 404.2,465.66 401.5,468.36 398.8,465.66" fill="#2e4c7e"/>
<polyline points="324.2,425.19 362.9,435.1 401.5,461.95" fill="none" stroke="#6aa843" stroke-width="1.5"/>
<line x1="324.2" y1="416.93" x2="324.2" y2="433.45" stroke="#6aa843" stroke-width="1.0"/>
<line x1="321.5" y1="416.93" x2="326.9" y2="416.93" stroke="#6aa843" stroke-width="1.1"/>
<line x1="321.5" y1="433.45" x2="326.9" y2="433.45" stroke="#6aa843" stroke-width="1.1"/>
<polygon points="324.2,422.25 327,427.85 321.4,427.85" fill="#6aa843"/>
<line x1="362.9" y1="426.02" x2="362.9" y2="444.19" stroke="#6aa843" stroke-width="1.0"/>
<line x1="360.2" y1="426.02" x2="365.6" y2="426.02" stroke="#6aa843" stroke-width="1.1"/>
<line x1="360.2" y1="444.19" x2="365.6" y2="444.19" stroke="#6aa843" stroke-width="1.1"/>
<polygon points="362.9,432.16 365.7,437.76 360.1,437.76" fill="#6aa843"/>
<line x1="401.5" y1="455.34" x2="401.5" y2="468.55" stroke="#6aa843" stroke-width="1.0"/>
<line x1="398.8" y1="455.34" x2="404.2" y2="455.34" stroke="#6aa843" stroke-width="1.1"/>
<line x1="398.8" y1="468.55" x2="404.2" y2="468.55" stroke="#6aa843" stroke-width="1.1"/>
<polygon points="401.5,459.01 404.3,464.61 398.7,464.61" fill="#6aa843"/>
<polyline points="324.2,423.95 362.9,433.04 401.5,453.69" fill="none" stroke="#afbb85" stroke-width="1.5"/>
<line x1="324.2" y1="414.87" x2="324.2" y2="433.04" stroke="#afbb85" stroke-width="1.0"/>
<line x1="321.5" y1="414.87" x2="326.9" y2="414.87" stroke="#afbb85" stroke-width="1.1"/>
<line x1="321.5" y1="433.04" x2="326.9" y2="433.04" stroke="#afbb85" stroke-width="1.1"/>
<rect x="321.6" y="421.35" width="5.2" height="5.2" fill="#afbb85"/>
<line x1="362.9" y1="424.36" x2="362.9" y2="441.71" stroke="#afbb85" stroke-width="1.0"/>
<line x1="360.2" y1="424.36" x2="365.6" y2="424.36" stroke="#afbb85" stroke-width="1.1"/>
<line x1="360.2" y1="441.71" x2="365.6" y2="441.71" stroke="#afbb85" stroke-width="1.1"/>
<rect x="360.3" y="430.44" width="5.2" height="5.2" fill="#afbb85"/>
<line x1="401.5" y1="447.49" x2="401.5" y2="459.88" stroke="#afbb85" stroke-width="1.0"/>
<line x1="398.8" y1="447.49" x2="404.2" y2="447.49" stroke="#afbb85" stroke-width="1.1"/>
<line x1="398.8" y1="459.88" x2="404.2" y2="459.88" stroke="#afbb85" stroke-width="1.1"/>
<rect x="398.9" y="451.09" width="5.2" height="5.2" fill="#afbb85"/>
<text x="7" y="548.8" font-size="11.8" font-weight="bold">E</text>
<line x1="63.5" y1="567.5" x2="63.5" y2="657.6" stroke="#1a1a1a" stroke-width="1.3"/>
<line x1="59.9" y1="654.6" x2="63.5" y2="654.6" stroke="#1a1a1a" stroke-width="1.0"/>
<text x="57.5" y="657.4" font-size="7.8" text-anchor="end" textLength="4.3" lengthAdjust="spacingAndGlyphs">0</text>
<line x1="59.9" y1="635.3" x2="63.5" y2="635.3" stroke="#1a1a1a" stroke-width="1.0"/>
<text x="57.5" y="638.1" font-size="7.8" text-anchor="end" textLength="4.3" lengthAdjust="spacingAndGlyphs">2</text>
<line x1="59.9" y1="616" x2="63.5" y2="616" stroke="#1a1a1a" stroke-width="1.0"/>
<text x="57.5" y="618.8" font-size="7.8" text-anchor="end" textLength="4.3" lengthAdjust="spacingAndGlyphs">4</text>
<line x1="59.9" y1="596.7" x2="63.5" y2="596.7" stroke="#1a1a1a" stroke-width="1.0"/>
<text x="57.5" y="599.5" font-size="7.8" text-anchor="end" textLength="4.3" lengthAdjust="spacingAndGlyphs">6</text>
<line x1="59.9" y1="577.4" x2="63.5" y2="577.4" stroke="#1a1a1a" stroke-width="1.0"/>
<text x="57.5" y="580.2" font-size="7.8" text-anchor="end" textLength="4.3" lengthAdjust="spacingAndGlyphs">8</text>
<line x1="63.5" y1="644.9" x2="193" y2="644.9" stroke="#1a1a1a" stroke-width="1.3"/>
<line x1="85.7" y1="644.9" x2="85.7" y2="647.9" stroke="#1a1a1a" stroke-width="1.0"/>
<line x1="127.9" y1="644.9" x2="127.9" y2="647.9" stroke="#1a1a1a" stroke-width="1.0"/>
<line x1="170.1" y1="644.9" x2="170.1" y2="647.9" stroke="#1a1a1a" stroke-width="1.0"/>
<text x="35.3" y="612.5" font-size="8.7" text-anchor="middle" textLength="50" lengthAdjust="spacingAndGlyphs" transform="rotate(-90 35.3 612.5)">Fold change of</text>
<text x="47.6" y="612.5" font-size="8.7" text-anchor="middle" textLength="62.5" lengthAdjust="spacingAndGlyphs" transform="rotate(-90 47.6 612.5)">surface expression</text>
<line x1="73.3" y1="620.83" x2="73.3" y2="608.76" stroke="#3a3a3a" stroke-width="1.0"/>
<line x1="70.5" y1="608.76" x2="76.1" y2="608.76" stroke="#3a3a3a" stroke-width="1.1"/>
<rect x="69.05" y="620.83" width="8.5" height="24.07" fill="#6aa843" stroke="#5c9a37" stroke-width="0.4"/>
<line x1="85.7" y1="618.41" x2="85.7" y2="604.42" stroke="#3a3a3a" stroke-width="1.0"/>
<line x1="82.9" y1="604.42" x2="88.5" y2="604.42" stroke="#3a3a3a" stroke-width="1.1"/>
<rect x="81.45" y="618.41" width="8.5" height="26.49" fill="#532769" stroke="#45195c" stroke-width="0.4"/>
<line x1="98.1" y1="643.02" x2="98.1" y2="640.61" stroke="#3a3a3a" stroke-width="1.0"/>
<line x1="95.3" y1="640.61" x2="100.9" y2="640.61" stroke="#3a3a3a" stroke-width="1.1"/>
<rect x="93.85" y="643.02" width="8.5" height="1.88" fill="#b0102a" stroke="#9a0a22" stroke-width="0.4"/>
<line x1="115.5" y1="630.48" x2="115.5" y2="621.79" stroke="#3a3a3a" stroke-width="1.0"/>
<line x1="112.7" y1="621.79" x2="118.3" y2="621.79" stroke="#3a3a3a" stroke-width="1.1"/>
<rect x="111.25" y="630.48" width="8.5" height="14.42" fill="#6aa843" stroke="#5c9a37" stroke-width="0.4"/>
<line x1="127.9" y1="623.72" x2="127.9" y2="611.18" stroke="#3a3a3a" stroke-width="1.0"/>
<line x1="125.1" y1="611.18" x2="130.7" y2="611.18" stroke="#3a3a3a" stroke-width="1.1"/>
<rect x="123.65" y="623.72" width="8.5" height="21.18" fill="#532769" stroke="#45195c" stroke-width="0.4"/>
<line x1="140.3" y1="644.9" x2="140.3" y2="647.36" stroke="#3a3a3a" stroke-width="1.0"/>
<line x1="137.3" y1="647.36" x2="143.3" y2="647.36" stroke="#3a3a3a" stroke-width="1.2"/>
<line x1="157.7" y1="597.86" x2="157.7" y2="574.22" stroke="#3a3a3a" stroke-width="1.0"/>
<line x1="154.9" y1="574.22" x2="160.5" y2="574.22" stroke="#3a3a3a" stroke-width="1.1"/>
<rect x="153.45" y="597.86" width="8.5" height="47.04" fill="#6aa843" stroke="#5c9a37" stroke-width="0.4"/>
<line x1="170.1" y1="588.69" x2="170.1" y2="578.08" stroke="#3a3a3a" stroke-width="1.0"/>
<line x1="167.3" y1="578.08" x2="172.9" y2="578.08" stroke="#3a3a3a" stroke-width="1.1"/>
<rect x="165.85" y="588.69" width="8.5" height="56.21" fill="#532769" stroke="#45195c" stroke-width="0.4"/>
<line x1="182.5" y1="643.02" x2="182.5" y2="634.34" stroke="#3a3a3a" stroke-width="1.0"/>
<line x1="179.7" y1="634.34" x2="185.3" y2="634.34" stroke="#3a3a3a" stroke-width="1.1"/>
<rect x="178.25" y="643.02" width="8.5" height="1.88" fill="#b0102a" stroke="#9a0a22" stroke-width="0.4"/>
<line x1="73.3" y1="571.2" x2="98.1" y2="571.2" stroke="#333333" stroke-width="1.2"/>
<circle cx="85.7" cy="567.6" r="1.2" fill="#333333"/>
<line x1="85.7" y1="563.1" x2="98.1" y2="563.1" stroke="#333333" stroke-width="1.2"/>
<circle cx="91.9" cy="559.5" r="1.2" fill="#333333"/>
<line x1="115.5" y1="571.2" x2="140.3" y2="571.2" stroke="#333333" stroke-width="1.2"/>
<circle cx="127.9" cy="567.6" r="1.2" fill="#333333"/>
<line x1="127.9" y1="563.1" x2="140.3" y2="563.1" stroke="#333333" stroke-width="1.2"/>
<circle cx="132.45" cy="559.5" r="1.2" fill="#333333"/>
<circle cx="135.75" cy="559.5" r="1.2" fill="#333333"/>
<line x1="157.7" y1="571.2" x2="182.5" y2="571.2" stroke="#333333" stroke-width="1.2"/>
<circle cx="168.45" cy="567.6" r="1.2" fill="#333333"/>
<circle cx="171.75" cy="567.6" r="1.2" fill="#333333"/>
<line x1="170.1" y1="563.1" x2="182.5" y2="563.1" stroke="#333333" stroke-width="1.2"/>
<circle cx="173" cy="559.5" r="1.2" fill="#333333"/>
<circle cx="176.3" cy="559.5" r="1.2" fill="#333333"/>
<circle cx="179.6" cy="559.5" r="1.2" fill="#333333"/>
<text x="85.75" y="657.8" font-size="8.8" text-anchor="middle" textLength="21" lengthAdjust="spacingAndGlyphs">CD69</text>
<text x="128" y="657.8" font-size="8.8" text-anchor="middle" textLength="21" lengthAdjust="spacingAndGlyphs">CD25</text>
<text x="169.8" y="657.8" font-size="8.8" text-anchor="middle" textLength="26" lengthAdjust="spacingAndGlyphs">CD137</text>
<rect x="187.2" y="597.7" width="7.9" height="3.9" fill="#6aa843" stroke="#5c9a37" stroke-width="0.5"/>
<text x="198.5" y="601.9" font-size="7.8" textLength="33" lengthAdjust="spacingAndGlyphs">Untreated</text>
<rect x="187.2" y="609.6" width="7.9" height="4.1" fill="#532769" stroke="#45195c" stroke-width="0.5"/>
<text x="198.5" y="613.8" font-size="7.8" textLength="26" lengthAdjust="spacingAndGlyphs"><tspan dy="1.87" font-size="5.46">CR</tspan><tspan dy="-1.87" font-size="7.8">TCR</tspan><tspan dy="-2.81" font-size="4.84">+</tspan></text>
<rect x="187.2" y="621.6" width="7.9" height="4.1" fill="#b0102a" stroke="#9a0a22" stroke-width="0.5"/>
<text x="198.5" y="625.9" font-size="7.8" textLength="30" lengthAdjust="spacingAndGlyphs"><tspan dy="1.87" font-size="5.46">CR</tspan><tspan dy="-1.87" font-size="7.8">TRBC</tspan><tspan dy="-2.81" font-size="4.84">-</tspan></text>
<text x="248.5" y="548.5" font-size="11.8" font-weight="bold">F</text>
<line x1="298.5" y1="556.25" x2="298.5" y2="645.5" stroke="#1a1a1a" stroke-width="1.3"/>
<line x1="294.9" y1="644.9" x2="298.5" y2="644.9" stroke="#1a1a1a" stroke-width="1.0"/>
<text x="292.7" y="647.7" font-size="7.8" text-anchor="end" textLength="4.3" lengthAdjust="spacingAndGlyphs">0</text>
<line x1="294.9" y1="623.35" x2="298.5" y2="623.35" stroke="#1a1a1a" stroke-width="1.0"/>
<text x="292.7" y="626.15" font-size="7.8" text-anchor="end" textLength="4.3" lengthAdjust="spacingAndGlyphs">5</text>
<line x1="294.9" y1="601.8" x2="298.5" y2="601.8" stroke="#1a1a1a" stroke-width="1.0"/>
<text x="292.7" y="604.6" font-size="7.8" text-anchor="end" textLength="8.6" lengthAdjust="spacingAndGlyphs">10</text>
<line x1="294.9" y1="580.25" x2="298.5" y2="580.25" stroke="#1a1a1a" stroke-width="1.0"/>
<text x="292.7" y="583.05" font-size="7.8" text-anchor="end" textLength="8.6" lengthAdjust="spacingAndGlyphs">15</text>
<line x1="294.9" y1="558.7" x2="298.5" y2="558.7" stroke="#1a1a1a" stroke-width="1.0"/>
<text x="292.7" y="561.5" font-size="7.8" text-anchor="end" textLength="8.6" lengthAdjust="spacingAndGlyphs">20</text>
<line x1="298.5" y1="644.9" x2="428" y2="644.9" stroke="#1a1a1a" stroke-width="1.3"/>
<line x1="318.25" y1="644.9" x2="318.25" y2="647.9" stroke="#1a1a1a" stroke-width="1.0"/>
<line x1="363" y1="644.9" x2="363" y2="647.9" stroke="#1a1a1a" stroke-width="1.0"/>
<line x1="407.5" y1="644.9" x2="407.5" y2="647.9" stroke="#1a1a1a" stroke-width="1.0"/>
<line x1="309.5" y1="642.75" x2="326.75" y2="585.42" stroke="#4a5670" stroke-width="1.4"/>
<line x1="309.5" y1="643.61" x2="326.75" y2="594.47" stroke="#4a5670" stroke-width="1.4"/>
<line x1="309.5" y1="644.47" x2="326.75" y2="614.73" stroke="#4a5670" stroke-width="1.4"/>
<circle cx="309.5" cy="642.75" r="2.75" fill="#1a1a1a"/>
<circle cx="309.5" cy="643.61" r="2.75" fill="#1a1a1a"/>
<circle cx="309.5" cy="644.47" r="2.75" fill="#1a1a1a"/>
<rect x="324.15" y="582.82" width="5.2" height="5.2" fill="#1a1a1a"/>
<rect x="324.15" y="591.87" width="5.2" height="5.2" fill="#1a1a1a"/>
<rect x="324.15" y="612.13" width="5.2" height="5.2" fill="#1a1a1a"/>
<line x1="354.5" y1="644.9" x2="371.25" y2="592.32" stroke="#6aa843" stroke-width="1.4"/>
<line x1="354.5" y1="644.9" x2="371.25" y2="611.28" stroke="#6aa843" stroke-width="1.4"/>
<line x1="354.5" y1="644.9" x2="371.25" y2="624.43" stroke="#6aa843" stroke-width="1.4"/>
<circle cx="354.5" cy="644.9" r="2.75" fill="#1a1a1a"/>
<circle cx="354.5" cy="644.9" r="2.75" fill="#1a1a1a"/>
<circle cx="354.5" cy="644.9" r="2.75" fill="#1a1a1a"/>
<rect x="368.65" y="589.72" width="5.2" height="5.2" fill="#1a1a1a"/>
<rect x="368.65" y="608.68" width="5.2" height="5.2" fill="#1a1a1a"/>
<rect x="368.65" y="621.83" width="5.2" height="5.2" fill="#1a1a1a"/>
<line x1="399.5" y1="644.04" x2="416.25" y2="641.45" stroke="#2e4c7e" stroke-width="1.4"/>
<line x1="399.5" y1="644.47" x2="416.25" y2="640.59" stroke="#2e4c7e" stroke-width="1.4"/>
<line x1="399.5" y1="644.9" x2="416.25" y2="642.31" stroke="#2e4c7e" stroke-width="1.4"/>
<circle cx="399.5" cy="644.04" r="2.75" fill="#1a1a1a"/>
<circle cx="399.5" cy="644.47" r="2.75" fill="#1a1a1a"/>
<circle cx="399.5" cy="644.9" r="2.75" fill="#1a1a1a"/>
<rect x="413.65" y="638.85" width="5.2" height="5.2" fill="#1a1a1a"/>
<rect x="413.65" y="637.99" width="5.2" height="5.2" fill="#1a1a1a"/>
<rect x="413.65" y="639.71" width="5.2" height="5.2" fill="#1a1a1a"/>
<line x1="371.25" y1="560.5" x2="415.75" y2="560.5" stroke="#333333" stroke-width="1.2"/>
<circle cx="393.25" cy="557.6" r="1.2" fill="#333333"/>
<line x1="326.25" y1="570.5" x2="417.5" y2="570.5" stroke="#333333" stroke-width="1.2"/>
<circle cx="372" cy="567.2" r="1.2" fill="#333333"/>
<text x="266.3" y="600.4" font-size="8.7" text-anchor="middle" textLength="43.5" lengthAdjust="spacingAndGlyphs" transform="rotate(-90 266.3 600.4)">Frequency of</text>
<text x="278.8" y="599.9" font-size="8.7" text-anchor="middle" textLength="75.5" lengthAdjust="spacingAndGlyphs" transform="rotate(-90 278.8 599.9)">proliferating T cells [%]</text>
<text x="318.25" y="657.8" font-size="8.8" text-anchor="middle" textLength="34" lengthAdjust="spacingAndGlyphs">Untreated</text>
<text x="363" y="657.8" font-size="8.8" text-anchor="middle" textLength="27" lengthAdjust="spacingAndGlyphs"><tspan dy="2.11" font-size="6.16">CR</tspan><tspan dy="-2.11" font-size="8.8">TCR</tspan><tspan dy="-3.17" font-size="5.46">+</tspan></text>
<text x="407.5" y="657.8" font-size="8.8" text-anchor="middle" textLength="29.5" lengthAdjust="spacingAndGlyphs"><tspan dy="2.11" font-size="6.16">CR</tspan><tspan dy="-2.11" font-size="8.8">TRBC</tspan><tspan dy="-3.17" font-size="5.46">-</tspan></text>
<line x1="437.3" y1="587.7" x2="446.9" y2="587.7" stroke="#1a1a1a" stroke-width="1.1"/>
<circle cx="441.9" cy="587.7" r="2.3" fill="#1a1a1a"/>
<text x="449.8" y="590.2" font-size="7.8" textLength="43" lengthAdjust="spacingAndGlyphs">Effector only</text>
<line x1="437.3" y1="604.6" x2="446.9" y2="604.6" stroke="#1a1a1a" stroke-width="1.1"/>
<rect x="439.7" y="602.4" width="4.4" height="4.4" fill="#1a1a1a"/>
<text x="449.8" y="607.3" font-size="7.8" textLength="43" lengthAdjust="spacingAndGlyphs">Effector plus</text>
<text x="449.8" y="616" font-size="7.8" textLength="37" lengthAdjust="spacingAndGlyphs">allo-PBMCs</text>
<rect x="0.5" y="0.5" width="519" height="668" fill="none" stroke="#000" stroke-width="1.3"/>
</svg>
</body></html>
